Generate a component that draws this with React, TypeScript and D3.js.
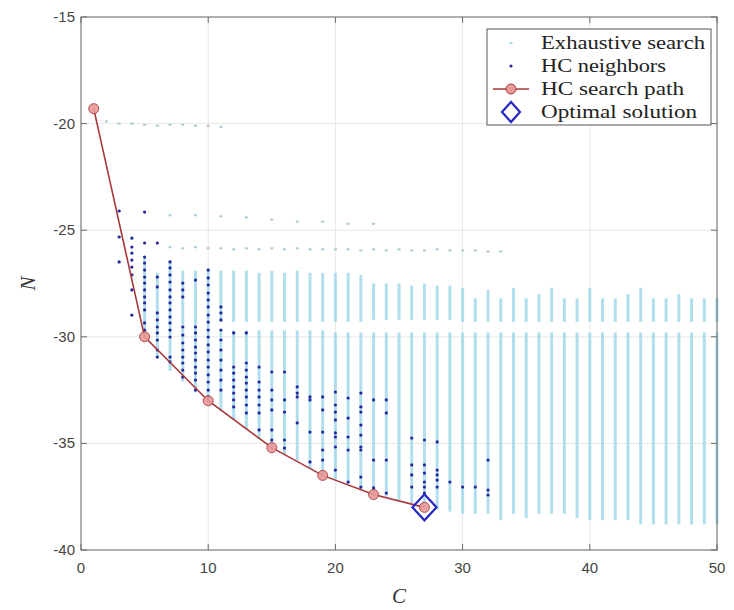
import React from "react";
import * as d3 from "d3";

// ---------- data ----------
const xTicks = [0, 10, 20, 30, 40, 50];
const yTicks = [-40, -35, -30, -25, -20, -15];

// HC search path
const pathC = [1, 5, 10, 15, 19, 23, 27];
const pathN = [-19.3, -30.0, -33.0, -35.2, -36.5, -37.4, -38.0];

// optimal solution
const optC = [27];
const optN = [-38.0];

// exhaustive search: dense stacks of points per C (upper block, lower block)
const exColC = [5, 6, 7, 8, 9, 10, 11, 12, 13, 14, 15, 16, 17, 18, 19, 20, 21, 22, 23, 24, 25, 26, 27, 28, 29, 30, 31, 32, 33, 34, 35, 36, 37, 38, 39, 40, 41, 42, 43, 44, 45, 46, 47, 48, 49, 50];
const exUpperTop = [-26.3, -27.0, -26.4, -26.9, -26.9, -26.8, -26.9, -26.9, -26.9, -27.0, -26.9, -27.0, -26.9, -27.0, -27.0, -27.0, -27.0, -27.1, -27.5, -27.5, -27.5, -27.6, -27.5, -27.6, -27.6, -27.7, -28.2, -27.8, -28.2, -27.7, -28.2, -28.0, -27.7, -28.2, -28.2, -27.7, -28.2, -28.2, -28.0, -27.7, -28.2, -28.2, -28.0, -28.2, -28.2, -28.2];
const exUpperBottom = [-30.0, -31.0, -31.6, -32.1, -32.6, -33.0, -29.3, -29.3, -29.3, -29.3, -29.3, -29.3, -29.3, -29.3, -29.3, -29.3, -29.3, -29.3, -29.2, -29.2, -29.2, -29.2, -29.2, -29.2, -29.2, -29.3, -29.3, -29.3, -29.3, -29.3, -29.3, -29.3, -29.3, -29.3, -29.3, -29.3, -29.3, -29.3, -29.3, -29.3, -29.3, -29.3, -29.3, -29.3, -29.3, -29.3];
const exLowerTop = [NaN, NaN, NaN, NaN, NaN, NaN, -29.7, -29.7, -29.7, -29.7, -29.7, -29.7, -29.7, -29.7, -29.7, -29.8, -29.8, -29.8, -29.8, -29.8, -29.8, -29.8, -29.8, -29.8, -29.8, -29.8, -29.8, -29.8, -29.8, -29.8, -29.8, -29.8, -29.8, -29.8, -29.8, -29.8, -29.8, -29.8, -29.8, -29.8, -29.8, -29.8, -29.8, -29.8, -29.8, -29.8];
const exLowerBottom = [NaN, NaN, NaN, NaN, NaN, NaN, -33.5, -33.9, -34.3, -34.8, -35.2, -35.5, -35.8, -36.2, -36.5, -36.7, -36.9, -37.2, -37.4, -37.5, -37.7, -37.8, -38.0, -38.1, -38.2, -38.3, -38.3, -38.3, -38.6, -38.3, -38.5, -38.3, -38.3, -38.3, -38.5, -38.6, -38.6, -38.6, -38.6, -38.8, -38.8, -38.8, -38.8, -38.8, -38.8, -38.8];

// exhaustive search: isolated points
const exPtC = [2, 3, 4, 5, 6, 7, 8, 9, 10, 11,
  7, 9, 11, 13, 15, 17, 19, 21, 23,
  7, 8, 9, 10, 11, 12, 13, 14, 15, 16, 17, 18, 19, 20, 21, 22, 23, 24, 25, 26, 27, 28, 29, 30, 31, 32, 33,
  3, 3, 3, 4, 4, 4, 4];
const exPtN = [-19.9, -20.0, -20.0, -20.05, -20.1, -20.05, -20.05, -20.1, -20.1, -20.15,
  -24.3, -24.3, -24.35, -24.4, -24.5, -24.6, -24.6, -24.7, -24.7,
  -25.8, -25.85, -25.8, -25.85, -25.85, -25.9, -25.85, -25.9, -25.85, -25.9, -25.85, -25.9, -25.9, -25.9, -25.9, -25.95, -25.9, -25.95, -25.9, -25.95, -25.95, -25.9, -25.95, -25.95, -25.95, -26.0, -26.0,
  -24.1, -25.3, -26.5, -25.4, -26.1, -27.1, -29.0];

// HC neighbors
const hcC = [
  3, 3, 3,
  4, 4, 4, 4, 4, 4, 4, 4,
  5, 5, 5, 5, 5, 5, 5, 5, 5, 5, 5, 5, 5,
  6, 6, 6, 6, 6, 6, 6, 6, 6, 6,
  7, 7, 7, 7, 7, 7, 7, 7, 7, 7, 7, 7, 7, 7,
  8, 8, 8, 8, 8, 8, 8, 8, 8, 8, 8,
  9, 9, 9, 9, 9, 9, 9, 9, 9, 9, 9,
  10, 10, 10, 10, 10, 10, 10, 10, 10, 10, 10, 10, 10, 10, 10, 10, 10, 10,
  11, 11, 11, 11, 11, 11, 11, 11, 11, 11,
  12, 12, 12, 12, 12, 12, 12, 12,
  13, 13, 13, 13, 13, 13, 13, 13, 13,
  14, 14, 14, 14, 14, 14, 14,
  15, 15, 15, 15, 15, 15,
  16, 16, 16, 16, 16,
  17, 17, 17, 17,
  18, 18, 18, 18,
  19, 19, 19, 19, 19,
  20, 20, 20, 20, 20, 20, 20, 20,
  21, 21, 21, 21, 21,
  22, 22, 22, 22, 22, 22, 22, 22, 22,
  23, 23, 23,
  24, 24, 24, 24,
  26, 26, 26, 26,
  27, 27, 27, 27, 27, 27,
  28, 28, 28, 28, 28,
  29, 30, 31,
  32, 32, 32];
const hcN = [
  -24.10, -25.32, -26.49,
  -25.37, -25.79, -26.07, -26.40, -26.73, -27.10, -27.80, -28.98,
  -24.15, -25.60, -26.26, -26.54, -26.87, -27.20, -27.48, -27.80, -28.13, -28.41, -28.74, -29.35, -29.68,
  -25.60, -27.20, -27.66, -28.88, -29.21, -29.54, -29.82, -30.15, -30.62, -30.95,
  -26.49, -26.77, -27.10, -27.43, -27.80, -28.13, -28.41, -28.74, -29.07, -29.35, -29.68, -30.01, -30.95, -31.18,
  -27.48, -27.80, -28.13, -29.54, -29.92, -30.29, -30.62, -30.95, -31.23, -31.56, -31.89,
  -27.34, -29.54, -29.82, -30.15, -30.48, -30.76, -31.09, -31.42, -31.70, -32.03, -32.50,
  -26.87, -27.24, -27.57, -27.95, -28.27, -28.60, -28.98, -29.31, -29.68, -30.01, -30.38, -30.71, -31.09, -31.42, -31.79, -32.12, -32.50, -32.82,
  -28.60, -28.88, -29.21, -29.68, -30.15, -30.62, -31.09, -31.56, -32.03, -32.50,
  -29.82, -31.42, -31.70, -32.03, -32.35, -32.64, -32.96, -33.29,
  -29.82, -31.23, -31.56, -31.89, -32.17, -32.50, -32.82, -33.20, -33.57,
  -31.42, -32.12, -32.50, -32.82, -33.20, -33.57, -34.37,
  -31.65, -32.50, -32.96, -33.43, -34.37, -34.84,
  -31.65, -32.96, -33.53, -34.84, -35.22,
  -32.35, -32.64, -32.82, -34.04,
  -32.82, -32.96, -34.47, -35.87,
  -32.82, -33.43, -34.47, -35.31, -35.78,
  -32.59, -33.20, -33.53, -33.90, -34.51, -34.70, -35.17, -36.25,
  -32.87, -33.81, -34.70, -35.31, -36.81,
  -32.64, -33.29, -33.53, -34.14, -34.61, -35.17, -35.31, -36.58, -37.05,
  -32.96, -35.78, -37.09,
  -32.96, -33.57, -35.78, -37.33,
  -34.75, -36.01, -36.48, -37.05,
  -34.84, -36.01, -36.39, -36.81, -37.05, -37.33,
  -34.93, -36.25, -36.48, -36.72, -37.05,
  -36.81, -37.05, -37.05,
  -35.78, -37.19, -37.42];

const legendLabels = ["Exhaustive search", "HC neighbors", "HC search path", "Optimal solution"];
const legendWidths = [164, 125, 143, 156];

// ---------- chart ----------
const W = 734;
const H = 610;
const M = { left: 81, right: 717, top: 17, bottom: 550 };

const exColor = "#9fd8ea";
const exPtColor = "#a9c9d6";
const hcColor = "#26269c";
const pathColor = "#a8383a";
const pathFill = "#e89a9a";
const optColor = "#2626c0";
const axisColor = "#6a6a6a";
const gridColor = "#e8e8e8";
const tickFont = "'Liberation Sans', Arial, sans-serif";
const serif = "'Liberation Serif', 'Times New Roman', serif";

export default function App() {
  const x = d3.scaleLinear().domain([0, 50]).range([M.left, M.right]);
  const y = d3.scaleLinear().domain([-40, -15]).range([M.bottom, M.top]);
  const line = d3
    .line<number>()
    .x((_, i) => x(pathC[i]))
    .y((d) => y(d));
  const tickLen = 6;
  const diamond = (cx: number, cy: number, rx: number, ry: number) =>
    `M${cx},${cy - ry}L${cx + rx},${cy}L${cx},${cy + ry}L${cx - rx},${cy}Z`;

  const legX = 487, legY = 29, legW = 224, legH = 96;
  const legRow = (i: number) => legY + 14 + i * 23;
  const legMarkX = 511;

  return (
    <svg
      width={W}
      height={H}
      style={{ position: "fixed", left: 0, top: 0, background: "#fff" }}
    >
      <rect x={0} y={0} width={W} height={H} fill="#fff" />
      {/* grid */}
      <g>
        {xTicks.map((t) => (
          <line key={"gx" + t} x1={x(t)} x2={x(t)} y1={M.top} y2={M.bottom} stroke={gridColor} strokeWidth={1} />
        ))}
        {yTicks.map((t) => (
          <line key={"gy" + t} x1={M.left} x2={M.right} y1={y(t)} y2={y(t)} stroke={gridColor} strokeWidth={1} />
        ))}
      </g>

      {/* exhaustive search columns */}
      <g fill={exColor} opacity={0.8}>
        {exColC.map((c, i) => (
          <g key={"ex" + c}>
            <rect x={x(c) - 1.5} width={3} y={y(exUpperTop[i])} height={y(exUpperBottom[i]) - y(exUpperTop[i])} />
            {!isNaN(exLowerTop[i]) && (
              <rect x={x(c) - 1.5} width={3} y={y(exLowerTop[i])} height={y(exLowerBottom[i]) - y(exLowerTop[i])} />
            )}
          </g>
        ))}
      </g>
      {/* exhaustive isolated points */}
      <g fill={exPtColor}>
        {exPtC.map((c, i) => (
          <rect key={"ep" + i} x={x(c) - 1.5} y={y(exPtN[i]) - 1} width={3} height={2} />
        ))}
      </g>

      {/* HC neighbors */}
      <g fill={hcColor}>
        {hcC.map((c, i) => (
          <circle key={"hc" + i} cx={x(c)} cy={y(hcN[i])} r={1.6} />
        ))}
      </g>

      {/* HC search path */}
      <path d={line(pathN) || ""} fill="none" stroke={pathColor} strokeWidth={1.6} />
      {pathC.map((c, i) => (
        <circle key={"pc" + i} cx={x(c)} cy={y(pathN[i])} r={5} fill={pathFill} stroke={pathColor} strokeWidth={1} opacity={0.9} />
      ))}

      {/* optimal solution */}
      {optC.map((c, i) => (
        <path key={"opt" + i} d={diamond(x(c), y(optN[i]), 12, 13)} fill="none" stroke={optColor} strokeWidth={2.2} />
      ))}

      {/* axes box */}
      <rect x={M.left} y={M.top} width={M.right - M.left} height={M.bottom - M.top} fill="none" stroke={axisColor} strokeWidth={1} />
      {xTicks.map((t) => (
        <g key={"xt" + t}>
          <line x1={x(t)} x2={x(t)} y1={M.bottom} y2={M.bottom - tickLen} stroke={axisColor} />
          <line x1={x(t)} x2={x(t)} y1={M.top} y2={M.top + tickLen} stroke={axisColor} />
          <text x={x(t)} y={M.bottom + 23} textAnchor="middle" fontFamily={tickFont} fontSize={15} fill="#444">
            {t}
          </text>
        </g>
      ))}
      {yTicks.map((t) => (
        <g key={"yt" + t}>
          <line x1={M.left} x2={M.left + tickLen} y1={y(t)} y2={y(t)} stroke={axisColor} />
          <line x1={M.right} x2={M.right - tickLen} y1={y(t)} y2={y(t)} stroke={axisColor} />
          <text x={M.left - 6} y={y(t) + 5} textAnchor="end" fontFamily={tickFont} fontSize={15} fill="#444">
            {t}
          </text>
        </g>
      ))}
      <text x={(M.left + M.right) / 2} y={603} textAnchor="middle" fontFamily={serif} fontStyle="italic" fontSize={21} fill="#333">
        C
      </text>
      <text
        transform={`translate(35,${(M.top + M.bottom) / 2}) rotate(-90)`}
        textAnchor="middle"
        fontFamily={serif}
        fontStyle="italic"
        fontSize={21}
        fill="#333"
      >
        N
      </text>

      {/* legend */}
      <rect x={legX} y={legY} width={legW} height={legH} fill="#fff" stroke="#555" strokeWidth={1} />
      <rect x={legMarkX - 1.5} y={legRow(0) - 1} width={3} height={2} fill={exColor} />
      <circle cx={legMarkX} cy={legRow(1)} r={1.6} fill={hcColor} />
      <line x1={legMarkX - 18} x2={legMarkX + 18} y1={legRow(2)} y2={legRow(2)} stroke={pathColor} strokeWidth={1.6} />
      <circle cx={legMarkX} cy={legRow(2)} r={5} fill={pathFill} stroke={pathColor} strokeWidth={1} />
      <path d={diamond(legMarkX, legRow(3), 9, 10)} fill="none" stroke={optColor} strokeWidth={2.2} />
      {legendLabels.map((l, i) => (
        <text
          key={l}
          x={541}
          y={legRow(i) + 6}
          fontFamily={serif}
          fontSize={19}
          fill="#222"
          textLength={legendWidths[i]}
          lengthAdjust="spacingAndGlyphs"
        >
          {l}
        </text>
      ))}
    </svg>
  );
}
